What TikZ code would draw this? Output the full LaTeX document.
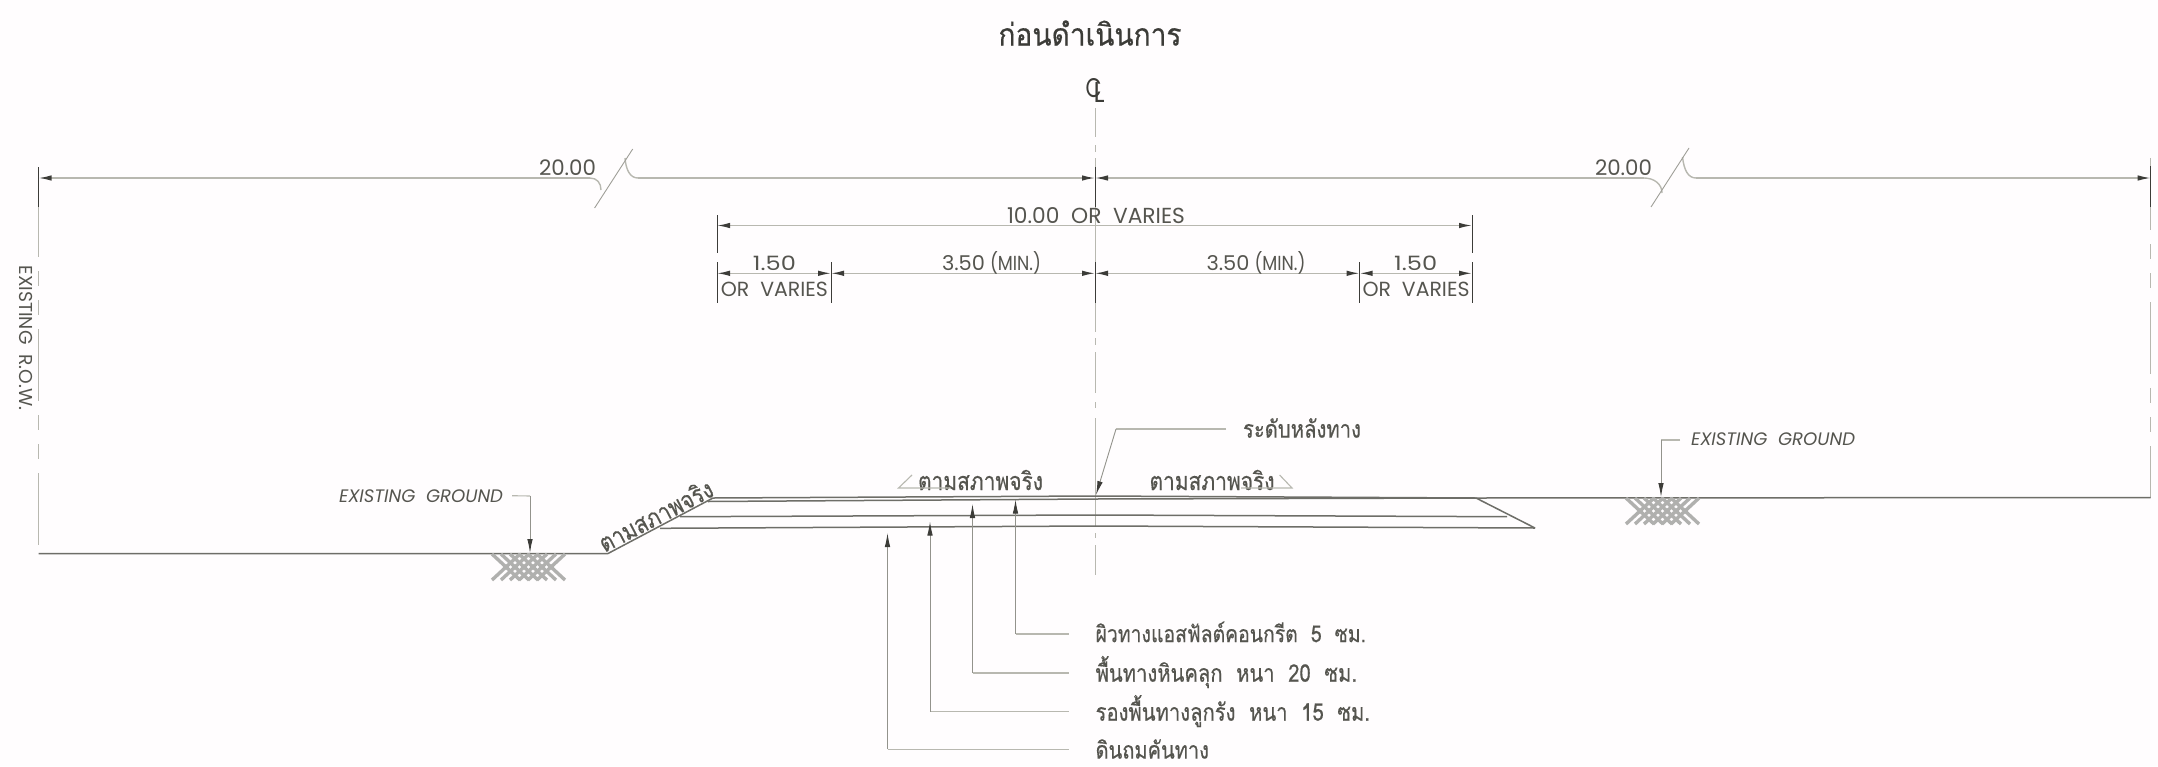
\documentclass[tikz,border=0pt]{standalone}
\usepackage{fontspec}
\usetikzlibrary{arrows.meta}
\newfontfamily\thaifont[Script=Thai,FakeBold=0.5]{Loma}
\setmainfont{Poppins}
\definecolor{paper}{HTML}{FFFDFE}
\definecolor{ink}{HTML}{55554F}
\definecolor{dark}{HTML}{3C3C38}
\definecolor{thin}{HTML}{B8B8B0}
\definecolor{road}{HTML}{6E6E68}
\definecolor{hatchc}{HTML}{B0B0AE}
\newcommand{\fitw}[2]{\resizebox{#1pt}{!}{#2}}
\newcommand{\fitv}[3]{\scalebox{1}[#2]{\resizebox{#1pt}{!}{#3}}}
\tikzset{
  x=1pt,y=-1pt,
  dimline/.style={draw=thin,line width=1.4pt},
  tick/.style={draw=dark,line width=1pt},
  tipA/.style={-{Latex[length=13pt,width=5.5pt,color=dark]}},
  tipB/.style={{Latex[length=13pt,width=5.5pt,color=dark]}-{Latex[length=13pt,width=5.5pt,color=dark]}},
  leader/.style={draw=thin,line width=1.1pt},
  ldr/.style={draw=thin!70!dark,line width=.9pt,-{Latex[length=14pt,width=5.5pt,color=dark]}},
  roadline/.style={draw=road,line width=1.5pt},
  txt/.style={inner sep=0pt,outer sep=0pt,text=ink,font=\fontsize{20}{20}\selectfont},
  ittxt/.style={txt,font=\fontsize{18}{18}\selectfont\itshape},
  thai/.style={inner sep=0pt,outer sep=0pt,text=ink,font=\thaifont\fontsize{25}{25}\selectfont},
  row/.style={dash pattern=on 72pt off 14pt on 15pt off 14pt on 15pt off 14pt},
}
\newcommand{\hatchmark}[3]{%
  \foreach \k in {0,9,...,45}{
    \draw[hatchc,line width=3.4pt] (#1+\k,#3) -- (#1+\k+#2-45,#3+26);
    \draw[hatchc,line width=3.4pt] (#1+#2-\k,#3) -- (#1+45-\k,#3+26);
  }}
\begin{document}
\begin{tikzpicture}
\path[use as bounding box,fill=paper] (0,0) rectangle (2158,766);

% title
\node[thai,text=dark,font=\thaifont\fontsize{30}{30}\selectfont] (title) at (1090,33) {\fitv{183}{1.1}{ก่อนดำเนินการ}};
\node[txt,text=dark] (cl) at (1095,90) {\rlap{\raisebox{5pt}{\resizebox{16pt}{19pt}{C}}}\hspace{8pt}\resizebox{11pt}{20pt}{L}};

% key points
\coordinate (L1) at (38.6,167); \coordinate (L2) at (38.6,207); \coordinate (L3) at (38.6,553.5); \coordinate (L0) at (38.6,185);
\coordinate (R1) at (2150.7,166); \coordinate (R2) at (2150.7,207); \coordinate (R3) at (2150.7,497.5); \coordinate (R0) at (2150.7,158);
\coordinate (LD) at (38.6,178); \coordinate (RD) at (2150.7,178); \coordinate (CD) at (1095,178);

% centre line
\draw[draw=thin,line width=1pt] (1095,108) -- (1095,137) (1095,145) -- (1095,152) (1095,158) -- (1095,332)
  (1095,338) -- (1095,345) (1095,352) -- (1095,393) (1095,402) -- (1095,408) (1095,418) -- (1095,527)
  (1095,533) -- (1095,538) (1095,545) -- (1095,575);
\draw[tick] (1095,167) coordinate (ca) -- (1095,207) coordinate (cb);
\draw[tick] (1095,262) coordinate (cc) -- (1095,303) coordinate (cd);

% row of way lines
\draw[draw=thin,line width=1pt,row] (L0) -- (L3);
\draw[draw=thin,line width=1pt,row] (R0) -- (R3);
\draw[tick] (L1) -- (L2);
\draw[tick] (R1) -- (R2);
\node[txt,rotate=-90,font=\fontsize{18}{18}\selectfont] (row) at (26,338) {\fitw{145}{EXISTING\ \ R.O.W.}};

% 20.00 dimensions
\coordinate (ba) at (590,178); \coordinate (bb) at (638,178);
\coordinate (bc) at (1644,178); \coordinate (bd) at (1696,178);
\draw[dimline,tipA] (ba) -- (LD);
\draw[dimline] (ba) .. controls (597,178) and (601,183) .. (601,190) coordinate (bae);
\draw[dimline] (625,158) coordinate (bbe) .. controls (626,170) and (630,178) .. (bb);
\draw[thin!80!dark,line width=.9pt] (594.6,208) coordinate (s1) -- (632.7,149) coordinate (s2);
\draw[dimline,tipA] (bb) -- (CD);
\draw[dimline,tipA] (bc) -- (CD);
\draw[dimline,tipA] (bd) -- (RD);
\draw[dimline] (bc) .. controls (1654,178) and (1662,184) .. (1662,193) coordinate (bce);
\draw[dimline] (1682.5,157) coordinate (bde) .. controls (1684,170) and (1688,178) .. (bd);
\draw[thin!80!dark,line width=.9pt] (1651,207) coordinate (s3) -- (1689,148) coordinate (s4);
\node[txt] (d1) at (567.5,168) {\fitw{57}{20.00}};
\node[txt] (d2) at (1623.5,168) {\fitw{57}{20.00}};

% 10.00 dimension
\draw[tick] (717,215) coordinate (t1) -- (717,253) coordinate (t1b);
\draw[tick] (1472,215) coordinate (t2) -- (1472,253) coordinate (t2b);
\coordinate (e1) at (717,225.5); \coordinate (e2) at (1472,225.5);
\draw[dimline,tipB] (e1) -- (e2);
\node[txt] (d3) at (1096,215.5) {\fitw{178}{10.00\ \ OR\ \ VARIES}};

% row 3
\foreach \n/\x in {a/717,b/831,d/1359.6,e/1472}{
  \coordinate (u\n) at (\x,262); \coordinate (v\n) at (\x,303);
  \coordinate (m\n) at (\x,273.3);
  \draw[tick] (u\n) -- (v\n);
}
\coordinate (mc) at (1095,273.3);
\draw[dimline,tipB] (ma) -- (mb);
\draw[dimline,tipB] (mb) -- (mc);
\draw[dimline,tipB] (mc) -- (md);
\draw[dimline,tipB] (md) -- (me);
\node[txt] (t150l) at (774.4,263.5) {\resizebox{43pt}{14.5pt}{1.50}};
\node[txt] (t150r) at (1415.7,263.5) {\resizebox{43pt}{14.5pt}{1.50}};
\node[txt] (orl) at (774.4,289) {\fitw{107}{OR\ \ VARIES}};
\node[txt] (orr) at (1416,289) {\fitw{107}{OR\ \ VARIES}};
\node[txt] (minl) at (991.5,263) {\resizebox{43pt}{15pt}{3.50}\hspace{5pt}\resizebox{51pt}{19pt}{(MIN.)}};
\node[txt] (minr) at (1256,263) {\resizebox{43pt}{15pt}{3.50}\hspace{5pt}\resizebox{51pt}{19pt}{(MIN.)}};

% ground and pavement
\coordinate (g0) at (38.6,553.5); \coordinate (g1) at (608,553.5); \coordinate (g2) at (713,498);
\coordinate (p1) at (1095,496); \coordinate (p2) at (1476,498);
\coordinate (g3) at (2150.7,497.5); \coordinate (p3) at (1535,528);
\draw[roadline] (g0) -- (g1) -- (g2) -- (p1) -- (p2) -- (g3);
\draw[roadline] (708,501.5) coordinate (q1) -- (1095,499) coordinate (q2) -- (p2);
\draw[roadline] (680,516.7) coordinate (q3) -- (1095,515) coordinate (q4) -- (1507,516.7) coordinate (q5);
\draw[roadline] (660,528.3) coordinate (q6) -- (1095,526) coordinate (q7) -- (p3);
\draw[roadline] (p2) -- (p3);

% hatches
\hatchmark{492}{73}{554}
\hatchmark{1626}{73}{498}

% existing ground labels
\node[ittxt] (eg1) at (421,495.7) {\fitw{164}{EXISTING\ \ GROUND}};
\node[ittxt] (eg2) at (1773,439) {\fitw{164}{EXISTING\ \ GROUND}};
\coordinate (h1) at (530,496); \coordinate (a1) at (530,553);
\coordinate (h2) at (1661,440); \coordinate (a2) at (1661,497);
\draw[leader] (eg1.east) ++(9,0) coordinate (l1) -- (h1);
\draw[ldr] (h1) -- (a1);
\draw[leader] (1680,440) coordinate (l2) -- (h2);
\draw[ldr] (h2) -- (a2);

% as-is labels
\node[thai,rotate=27.5,anchor=base] (s1t) at (660,524) {\fitv{125}{1.2}{ตามสภาพจริง}};
\node[thai] (s2t) at (980.5,480) {\fitv{125}{1.2}{ตามสภาพจริง}};
\node[thai] (s3t) at (1212,480) {\fitv{125}{1.2}{ตามสภาพจริง}};
\draw[leader] (912,475) coordinate (w1) -- (898.5,488) coordinate (w2) -- (950.5,488) coordinate (w3);
\draw[leader] (1279.6,475) coordinate (w4) -- (1292,488) coordinate (w5) -- (1241,488) coordinate (w6);

% crown level
\node[thai] (crown) at (1302,428) {\fitv{118}{1.2}{ระดับหลังทาง}};
\coordinate (k1) at (1226,429); \coordinate (k2) at (1116,429); \coordinate (k3) at (1096,495);
\draw[leader] (k1) -- (k2);
\draw[ldr] (k2) -- (k3);

% layer callouts
\node[thai,anchor=west] (n1) at (1095.6,632) {\fitv{270.4}{1.2}{ผิวทางแอสฟัลต์คอนกรีต\ \ 5\ \ ซม.}};
\node[thai,anchor=west] (n2) at (1095.6,672) {\fitv{261.4}{1.2}{พื้นทางหินคลุก\ \ หนา\ \ 20\ \ ซม.}};
\node[thai,anchor=west] (n3) at (1095.6,711) {\fitv{274.4}{1.2}{รองพื้นทางลูกรัง\ \ หนา\ \ 15\ \ ซม.}};
\node[thai,anchor=west] (n4) at (1095.6,749) {\fitv{113.4}{1.2}{ดินถมคันทาง}};
\foreach \n/\x/\y/\t in {1/1015.5/634/499.5, 2/972.5/673/504, 3/930/711.7/521.5, 4/887.5/749.3/533}{
  \coordinate (c\n) at (1068.5,\y);
  \coordinate (b\n) at (\x,\y);
  \coordinate (a\n) at (\x,\t);
  \draw[leader] (c\n) -- (b\n);
  \draw[ldr] (b\n) -- (a\n);
}
\end{tikzpicture}
\end{document}
